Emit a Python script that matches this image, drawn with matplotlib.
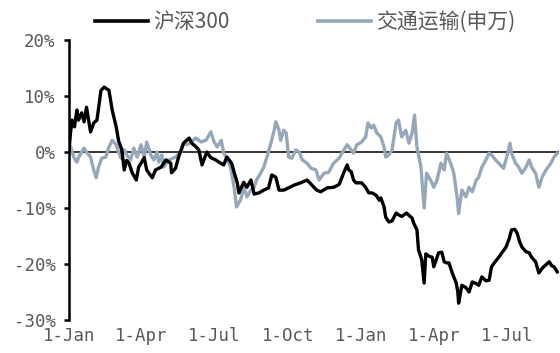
import matplotlib
matplotlib.use("Agg")
import matplotlib.pyplot as plt
import pandas as pd
from matplotlib.ticker import FuncFormatter

plt.rcParams['font.family'] = ['Noto Sans CJK SC', 'DejaVu Sans']
plt.rcParams['axes.unicode_minus'] = False

series_names = ['沪深300', '交通运输(申万)']

hs300_dates = [
    '2021-01-01', '2021-01-03', '2021-01-05', '2021-01-08', '2021-01-11', '2021-01-13', '2021-01-17',
    '2021-01-20', '2021-01-23', '2021-01-28', '2021-02-01', '2021-02-05', '2021-02-09', '2021-02-10',
    '2021-02-14', '2021-02-17', '2021-02-20', '2021-02-24', '2021-03-01', '2021-03-04', '2021-03-08',
    '2021-03-11', '2021-03-14', '2021-03-17', '2021-03-21', '2021-03-26', '2021-03-29', '2021-04-05',
    '2021-04-08', '2021-04-15', '2021-04-19', '2021-04-26', '2021-05-02', '2021-05-08', '2021-05-09',
    '2021-05-14', '2021-05-18', '2021-05-24', '2021-05-31', '2021-06-03', '2021-06-08', '2021-06-12',
    '2021-06-16', '2021-06-22', '2021-06-27', '2021-07-03', '2021-07-07', '2021-07-13', '2021-07-17',
    '2021-07-23', '2021-07-26', '2021-07-30', '2021-08-01', '2021-08-07', '2021-08-11', '2021-08-16',
    '2021-08-20', '2021-08-26', '2021-09-01', '2021-09-07', '2021-09-11', '2021-09-16', '2021-09-20',
    '2021-09-26', '2021-10-02', '2021-10-09', '2021-10-17', '2021-10-25', '2021-10-31', '2021-11-06',
    '2021-11-11', '2021-11-19', '2021-11-27', '2021-12-04', '2021-12-10', '2021-12-14', '2021-12-16',
    '2021-12-19', '2021-12-22', '2021-12-25', '2022-01-01', '2022-01-06', '2022-01-10', '2022-01-14',
    '2022-01-19', '2022-01-23', '2022-01-25', '2022-01-29', '2022-01-31', '2022-02-04', '2022-02-08',
    '2022-02-13', '2022-02-16', '2022-02-20', '2022-02-26', '2022-03-01', '2022-03-05', '2022-03-07',
    '2022-03-11', '2022-03-13', '2022-03-16', '2022-03-17', '2022-03-20', '2022-03-22', '2022-03-26',
    '2022-03-30', '2022-04-01', '2022-04-05', '2022-04-07', '2022-04-11', '2022-04-14', '2022-04-17',
    '2022-04-20', '2022-04-24', '2022-04-29', '2022-05-01', '2022-05-02', '2022-05-06', '2022-05-11',
    '2022-05-15', '2022-05-19', '2022-05-24', '2022-05-27', '2022-05-31', '2022-06-05', '2022-06-09',
    '2022-06-12', '2022-06-17', '2022-06-21', '2022-06-25', '2022-06-30', '2022-07-04', '2022-07-07',
    '2022-07-11', '2022-07-14', '2022-07-17', '2022-07-20', '2022-07-25', '2022-07-29', '2022-08-01',
    '2022-08-06', '2022-08-10', '2022-08-14', '2022-08-16', '2022-08-23', '2022-08-26', '2022-08-29',
    '2022-09-02',
]
hs300_values = [
    0.0, 3.4, 5.7, 4.5, 7.5, 5.7, 7.0,
    5.4, 8.0, 3.6, 5.2, 5.7, 10.0, 11.0,
    11.6, 11.3, 11.0, 7.5, 4.5, 2.0, 0.4,
    -3.2, -1.5, -2.0, -3.7, -5.0, -2.7, -1.0,
    -3.2, -4.6, -3.2, -2.7, -1.4, -2.0, -3.7,
    -2.9, -0.8, 1.6, 2.5, 1.6, 1.0, 0.4,
    -2.3, 0.0, -1.0, -1.4, -1.8, -2.3, -0.9,
    -2.0, -3.6, -5.5, -7.3, -5.4, -6.3, -5.0,
    -7.5, -7.3, -6.8, -6.4, -4.1, -4.5, -6.8,
    -6.8, -6.4, -5.9, -5.5, -5.0, -5.9, -6.8,
    -7.1, -6.4, -6.3, -5.8, -3.6, -2.3, -3.2,
    -3.5, -5.0, -5.5, -5.5, -6.3, -7.3, -7.3,
    -7.7, -8.6, -8.2, -9.8, -11.6, -12.5, -12.3,
    -10.9, -11.2, -11.5, -10.9, -11.3, -11.8, -12.7,
    -13.9, -17.5, -18.8, -19.3, -23.4, -18.2, -18.6,
    -18.8, -20.5, -18.8, -18.0, -17.9, -19.6, -19.8,
    -19.8, -21.6, -23.4, -25.0, -27.0, -23.8, -24.2,
    -25.0, -23.2, -23.5, -23.8, -22.3, -23.0, -22.9,
    -20.5, -19.5, -18.8, -18.0, -17.0, -15.5, -13.9,
    -13.8, -14.5, -16.0, -17.0, -17.8, -18.0, -18.8,
    -19.6, -21.6, -20.8, -20.5, -19.6, -20.3, -20.5,
    -21.4,
]

transport_dates = [
    '2021-01-01', '2021-01-03', '2021-01-07', '2021-01-11', '2021-01-13', '2021-01-16', '2021-01-20',
    '2021-01-23', '2021-01-28', '2021-02-01', '2021-02-04', '2021-02-07', '2021-02-11', '2021-02-16',
    '2021-02-20', '2021-02-24', '2021-03-01', '2021-03-04', '2021-03-07', '2021-03-11', '2021-03-14',
    '2021-03-19', '2021-03-23', '2021-03-27', '2021-04-01', '2021-04-05', '2021-04-08', '2021-04-13',
    '2021-04-17', '2021-04-21', '2021-04-23', '2021-04-27', '2021-04-29', '2021-05-06', '2021-05-14',
    '2021-05-21', '2021-05-24', '2021-05-28', '2021-06-03', '2021-06-08', '2021-06-15', '2021-06-21',
    '2021-06-27', '2021-07-01', '2021-07-05', '2021-07-10', '2021-07-13', '2021-07-17', '2021-07-22',
    '2021-07-26', '2021-07-29', '2021-08-01', '2021-08-03', '2021-08-07', '2021-08-11', '2021-08-16',
    '2021-08-20', '2021-08-23', '2021-08-28', '2021-09-01', '2021-09-05', '2021-09-10', '2021-09-14',
    '2021-09-16', '2021-09-20', '2021-09-22', '2021-09-26', '2021-09-29', '2021-10-02', '2021-10-06',
    '2021-10-11', '2021-10-15', '2021-10-19', '2021-10-25', '2021-10-30', '2021-11-05', '2021-11-09',
    '2021-11-15', '2021-11-21', '2021-11-27', '2021-12-04', '2021-12-10', '2021-12-14', '2021-12-19',
    '2021-12-22', '2021-12-26', '2022-01-01', '2022-01-06', '2022-01-09', '2022-01-13', '2022-01-16',
    '2022-01-20', '2022-01-25', '2022-01-29', '2022-01-31', '2022-02-04', '2022-02-08', '2022-02-13',
    '2022-02-16', '2022-02-20', '2022-02-25', '2022-03-01', '2022-03-05', '2022-03-08', '2022-03-11',
    '2022-03-16', '2022-03-20', '2022-03-23', '2022-03-28', '2022-04-01', '2022-04-05', '2022-04-10',
    '2022-04-14', '2022-04-17', '2022-04-22', '2022-04-26', '2022-04-30', '2022-05-02', '2022-05-06',
    '2022-05-11', '2022-05-15', '2022-05-19', '2022-05-24', '2022-05-27', '2022-05-31', '2022-06-05',
    '2022-06-09', '2022-06-12', '2022-06-17', '2022-06-21', '2022-06-27', '2022-07-01', '2022-07-05',
    '2022-07-07', '2022-07-12', '2022-07-16', '2022-07-20', '2022-07-25', '2022-07-29', '2022-08-01',
    '2022-08-06', '2022-08-10', '2022-08-14', '2022-08-19', '2022-08-25', '2022-08-29', '2022-09-02',
]
transport_values = [
    0.0, 1.0, -0.9, -1.8, -1.0, -0.2, 0.7,
    0.0, -0.9, -3.2, -4.6, -2.7, -1.1, -0.9,
    0.9, 2.1, 1.3, 0.0, -1.1, 0.4, -0.5,
    -1.4, 0.7, -0.9, 1.3, -0.9, 1.8, -0.5,
    -1.4, 0.0, -1.8, -0.5, -2.7, -1.4, -0.9,
    0.0, 1.6, 1.3, 1.8, 2.5, 1.8, 2.1,
    3.6, 1.8, 0.9, 2.1, -0.2, -1.1, -2.9,
    -6.3, -9.8, -9.0, -8.6, -6.3, -8.0, -6.8,
    -6.3, -5.0, -3.8, -2.7, -0.9, 1.6, 3.9,
    5.4, 3.9, 2.1, 3.9, 3.4, -0.9, -1.1,
    0.4, 0.0, -1.4, -2.0, -2.9, -3.2, -5.0,
    -3.8, -3.6, -2.0, -1.1, 0.4, 1.3, 0.4,
    -0.2, 1.3, 1.8, 2.7, 5.2, 4.3, 4.8,
    3.4, 2.7, 0.9, -0.9, -0.5, 0.4, 5.2,
    5.7, 2.7, 3.9, 1.6, 3.4, 6.6, 0.9,
    -2.7, -10.0, -3.8, -5.0, -6.3, -5.0, -2.0,
    -3.2, -0.2, -2.0, -3.8, -8.0, -11.0, -6.8,
    -8.0, -6.3, -7.1, -5.0, -4.5, -2.7, -1.4,
    -0.2, -0.5, -1.4, -2.0, -2.9, -0.9, 1.6,
    -0.2, -2.0, -2.7, -3.8, -2.7, -1.4, -2.7,
    -3.8, -6.3, -4.5, -3.2, -2.0, -0.9, -0.2,
]

tick_dates = ['2021-01-01', '2021-04-01', '2021-07-01', '2021-10-01',
              '2022-01-01', '2022-04-01', '2022-07-01']
tick_labels = ['1-Jan', '1-Apr', '1-Jul', '1-Oct', '1-Jan', '1-Apr', '1-Jul']
y_ticks = [-30, -20, -10, 0, 10, 20]

black = '#000000'
blue_gray = '#95A7B9'
text_gray = '#595959'
tick_font = ['DejaVu Sans Mono', 'DejaVu Sans']

fig = plt.figure(figsize=(5.6, 3.53), dpi=100)
ax = fig.add_axes([0.123, 0.0935, 0.875, 0.793])

ax.axhline(0, color='black', lw=1.1, zorder=1)
l1, = ax.plot(pd.to_datetime(hs300_dates), hs300_values, color=black, lw=2.4,
              label=series_names[0], zorder=3, solid_joinstyle='round')
l2, = ax.plot(pd.to_datetime(transport_dates), transport_values, color=blue_gray, lw=2.4,
              label=series_names[1], zorder=2, solid_joinstyle='round')

ax.set_xlim(pd.Timestamp('2021-01-01'), pd.Timestamp('2022-09-04'))
ax.set_ylim(-30, 20)
ax.set_yticks(y_ticks)
ax.yaxis.set_major_formatter(FuncFormatter(lambda v, p: f'{int(v)}%'))
ax.set_xticks(pd.to_datetime(tick_dates))
ax.set_xticklabels(tick_labels)

for s in ['top', 'right', 'bottom']:
    ax.spines[s].set_visible(False)
ax.spines['left'].set_linewidth(1.8)
ax.tick_params(axis='y', direction='out', length=3.6, width=1.8, pad=6,
               labelsize=12.5, labelcolor=text_gray)
ax.tick_params(axis='x', length=0, pad=5, labelsize=12.5, labelcolor=text_gray)
for lab in ax.get_xticklabels() + ax.get_yticklabels():
    lab.set_family(tick_font)

leg = fig.legend(handles=[l1, l2], loc='center', bbox_to_anchor=(0.545, 1 - 22 / 353),
                 ncol=2, frameon=False, fontsize=15, handlelength=2.55,
                 handletextpad=0.25, columnspacing=4.2, labelcolor=text_gray)
for h in leg.get_lines():
    h.set_linewidth(2.6)

fig.savefig('out.png', dpi=100)
